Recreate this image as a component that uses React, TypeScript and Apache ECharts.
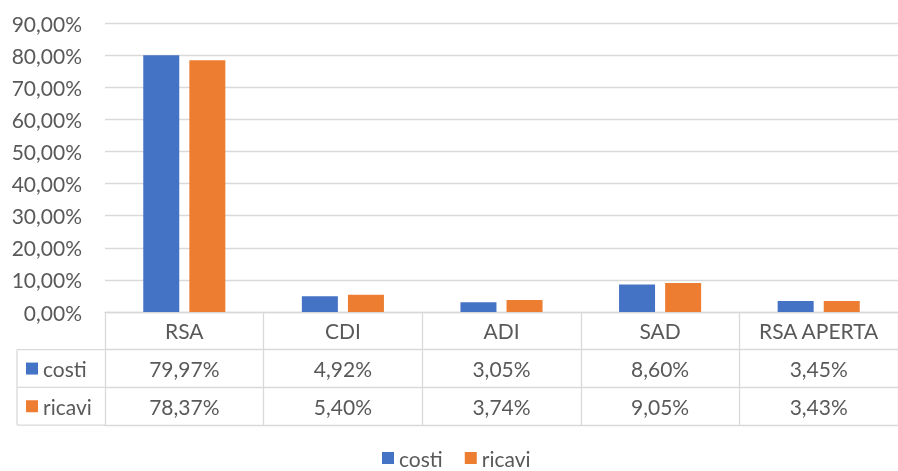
import React, { useEffect, useRef } from "react";
import * as echarts from "echarts";

const categories = ["RSA", "CDI", "ADI", "SAD", "RSA APERTA"];
const seriesNames = ["costi", "ricavi"];
const costi = [79.97, 4.92, 3.05, 8.6, 3.45];
const ricavi = [78.37, 5.4, 3.74, 9.05, 3.43];
const colors = ["#4472C4", "#ED7D31"];

const FONT = "Lato, 'Open Sans', sans-serif";
const TXT = "#595959";
const LINE = "#D9D9D9";
const fmt = (v: number) => v.toFixed(2).replace(".", ",") + "%";

const GRID_LEFT = 105;
const GRID_TOP = 23;
const GRID_H = 289;
const ROW = 37.7;
const TABLE_LEFT = 17;

export default function App() {
  const ref = useRef<HTMLDivElement>(null);
  useEffect(() => {
    if (!ref.current) return;
    const chart = echarts.init(ref.current, undefined, { renderer: "svg" });
    const base = GRID_TOP + GRID_H;
    const rowsData = [costi, ricavi];
    const xAxes: any[] = [
      {
        type: "category",
        data: categories,
        position: "bottom",
        axisLine: { show: true, lineStyle: { color: LINE, width: 1.3 } },
        axisTick: { show: true, length: ROW * 3, lineStyle: { color: LINE, width: 1.3 } },
        axisLabel: { margin: ROW / 2, verticalAlign: "middle", color: TXT, fontSize: 21, fontFamily: FONT },
      },
    ];
    rowsData.forEach((arr, i) => {
      xAxes.push({
        type: "category",
        data: arr.map(fmt),
        position: "bottom",
        offset: ROW * (i + 1),
        axisLine: { show: true, lineStyle: { color: LINE, width: 1.3 } },
        axisTick: { show: false },
        axisLabel: { margin: ROW / 2, verticalAlign: "middle", color: TXT, fontSize: 21, fontFamily: FONT },
      });
    });
    xAxes.push({
      type: "category",
      data: categories,
      position: "bottom",
      offset: ROW * 3,
      axisLine: { show: true, lineStyle: { color: LINE, width: 1.3 } },
      axisTick: { show: false },
      axisLabel: { show: false },
    });

    const graphics: any[] = [];
    for (let r = 1; r <= 3; r++) {
      graphics.push({
        type: "line",
        shape: { x1: TABLE_LEFT, y1: base + ROW * r, x2: GRID_LEFT, y2: base + ROW * r },
        style: { stroke: LINE, lineWidth: 1.3 },
      });
    }
    graphics.push({
      type: "line",
      shape: { x1: TABLE_LEFT, y1: base + ROW, x2: TABLE_LEFT, y2: base + ROW * 3 },
      style: { stroke: LINE, lineWidth: 1.3 },
    });
    seriesNames.forEach((name, i) => {
      const cy = base + ROW * (i + 1) + ROW / 2;
      graphics.push({
        type: "rect",
        shape: { x: 26, y: cy - 6, width: 12, height: 12 },
        style: { fill: colors[i] },
      });
      graphics.push({
        type: "text",
        x: 43,
        y: cy,
        style: { text: name, fill: TXT, font: `21px ${FONT}`, verticalAlign: "middle", align: "left" },
      });
    });

    chart.setOption({
      animation: false,
      color: colors,
      grid: { left: GRID_LEFT, top: GRID_TOP, height: GRID_H, width: 799 },
      xAxis: xAxes,
      yAxis: {
        type: "value",
        min: 0,
        max: 90,
        interval: 10,
        axisLine: { show: false },
        axisTick: { show: false },
        splitLine: { lineStyle: { color: LINE, width: 1.3 } },
        axisLabel: { formatter: (v: number) => fmt(v), color: TXT, fontSize: 21, fontFamily: FONT, margin: 23 },
      },
      legend: {
        data: seriesNames,
        left: 382,
        top: 447,
        padding: 0,
        icon: "rect",
        itemWidth: 12,
        itemHeight: 12,
        itemGap: 22,
        textStyle: { color: TXT, fontSize: 21, fontFamily: FONT, lineHeight: 22 },
      },
      graphic: graphics,
      series: [
        { name: seriesNames[0], type: "bar", data: costi, barWidth: 36, barGap: "28%", xAxisIndex: 0 },
        { name: seriesNames[1], type: "bar", data: ricavi, barWidth: 36, barGap: "28%", xAxisIndex: 0 },
      ],
    });
    return () => chart.dispose();
  }, []);
  return <div ref={ref} style={{ position: "fixed", left: 0, top: 0, width: 898, height: 471 }} />;
}
